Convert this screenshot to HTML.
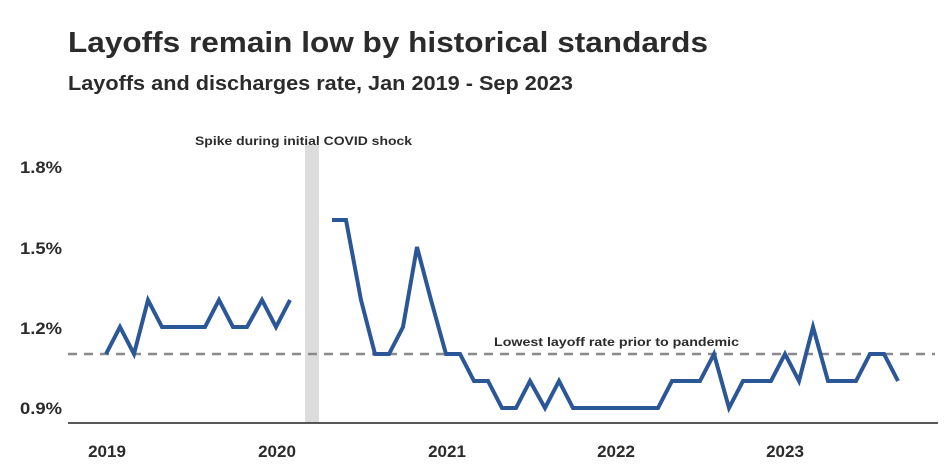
<!DOCTYPE html>
<html><head><meta charset="utf-8"><style>
html,body{margin:0;padding:0;background:#fff;}
svg{display:block;font-family:"Liberation Sans",sans-serif;font-weight:bold;fill:#2b2b2b;}
</style></head><body>
<svg width="945" height="471" viewBox="0 0 945 471" xmlns="http://www.w3.org/2000/svg">
<rect width="945" height="471" fill="#fff"/>
<text x="68" y="52" font-size="29" textLength="640" lengthAdjust="spacingAndGlyphs">Layoffs remain low by historical standards</text>
<text x="68" y="90" font-size="20" textLength="505" lengthAdjust="spacingAndGlyphs">Layoffs and discharges rate, Jan 2019 - Sep 2023</text>
<rect x="305" y="145" width="14" height="278" fill="#dcdcdc"/>
<text x="195" y="145" font-size="12" textLength="217" lengthAdjust="spacingAndGlyphs">Spike during initial COVID shock</text>
<line x1="68" y1="354" x2="935" y2="354" stroke="#8a8a8a" stroke-width="2.5" stroke-dasharray="9,7"/>
<text x="494" y="346" font-size="12" textLength="245" lengthAdjust="spacingAndGlyphs">Lowest layoff rate prior to pandemic</text>
<line x1="68" y1="423" x2="938" y2="423" stroke="#222" stroke-width="1.5"/>
<g font-size="17" text-anchor="end">
<text x="62" y="173" textLength="42" lengthAdjust="spacingAndGlyphs">1.8%</text>
<text x="62" y="254" textLength="42" lengthAdjust="spacingAndGlyphs">1.5%</text>
<text x="62" y="334" textLength="42" lengthAdjust="spacingAndGlyphs">1.2%</text>
<text x="62" y="414" textLength="42" lengthAdjust="spacingAndGlyphs">0.9%</text>
</g>
<g font-size="17" text-anchor="middle">
<text x="107" y="457">2019</text>
<text x="277" y="457">2020</text>
<text x="447" y="457">2021</text>
<text x="616" y="457">2022</text>
<text x="785" y="457">2023</text>
</g>
<polyline fill="none" stroke="#2b5797" stroke-width="4" stroke-linejoin="miter" points="106,354 120,327 134,354 148,300 162,327 177,327 191,327 205,327 219,300 233,327 247,327 262,300 276,327 290,300"/>
<polyline fill="none" stroke="#2b5797" stroke-width="4" stroke-linejoin="miter" points="332,220 346,220 361,300 375,354 389,354 403,327 417,247 431,300 446,354 460,354 474,381 488,381 502,408 516,408 530,381 545,408 559,381 573,408 587,408 601,408 615,408 630,408 644,408 658,408 672,381 686,381 700,381 714,354 729,408 743,381 757,381 771,381 785,354 799,381 813,327 828,381 842,381 856,381 870,354 884,354 898,381"/>
</svg>
</body></html>
